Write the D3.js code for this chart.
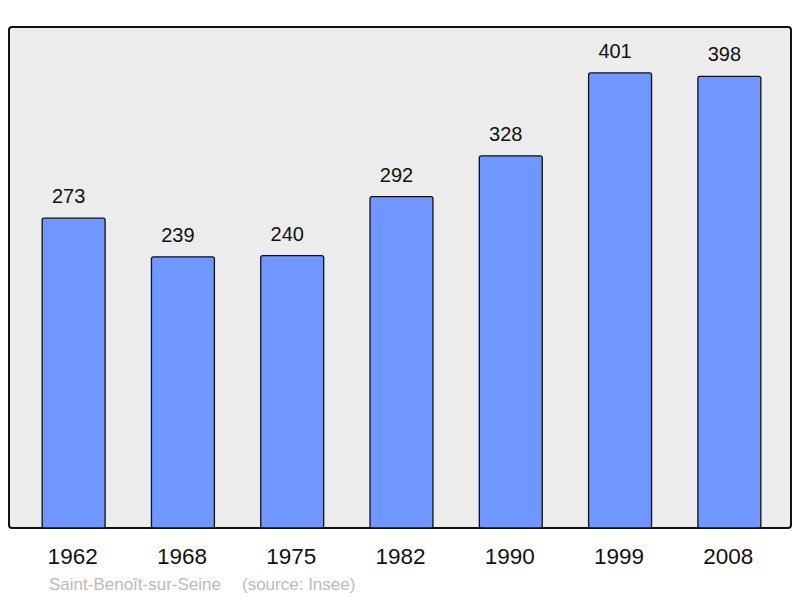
<!DOCTYPE html>
<html><head><meta charset="utf-8">
<script src="https://cdn.jsdelivr.net/npm/d3@7"></script>
<style>body{margin:0;background:#fff}svg{display:block}</style>
</head><body>
<script>
const years = ["1962","1968","1975","1982","1990","1999","2008"];
const population = [273,239,240,292,328,401,398];
const caption = ["Saint-Benoît-sur-Seine", "(source: Insee)"];

const W=800,H=598;
const frame={left:9,top:27,right:791,bottom:528};
const font="Liberation Sans, Arial, sans-serif";
const svg=d3.select("body").append("svg").attr("width",W).attr("height",H);
svg.append("rect").attr("x",frame.left).attr("y",frame.top)
  .attr("width",frame.right-frame.left).attr("height",frame.bottom-frame.top)
  .attr("rx",3).attr("fill","#ececec").attr("stroke","#111").attr("stroke-width",2);

const x=d3.scaleBand().domain(years).range([19,784]).paddingInner(0.424).paddingOuter(0.212);
const y=d3.scaleLinear().domain([0,441.5]).range([frame.bottom,frame.top]);

const g=svg.append("g");
g.selectAll("rect.bar").data(population).join("rect").attr("class","bar")
  .attr("x",(d,i)=>x(years[i])).attr("y",d=>y(d))
  .attr("width",x.bandwidth()).attr("height",d=>frame.bottom-y(d))
  .attr("rx",2).attr("fill","#7096ff").attr("stroke","#111").attr("stroke-width",1.3);

g.selectAll("text.val").data(population).join("text").attr("class","val")
  .attr("x",(d,i)=>x(years[i])+x.bandwidth()/2-5).attr("y",d=>y(d)-15)
  .attr("text-anchor","middle").attr("font-family",font)
  .attr("font-size",20).attr("fill","#111").text(d=>d);

const axis=d3.axisBottom(x).tickSize(0).tickPadding(0);
const ax=svg.append("g").attr("transform",`translate(0,${frame.bottom})`).call(axis);
ax.select(".domain").remove();
ax.selectAll("text").attr("y",36).attr("dy",null).attr("x",-1).attr("font-family",font)
  .attr("font-size",22.5).attr("fill","#111");

svg.append("text").attr("x",49).attr("y",590).attr("font-family",font)
  .attr("font-size",17).attr("fill","#bbb").text(caption[0]);
svg.append("text").attr("x",242).attr("y",590).attr("font-family",font)
  .attr("font-size",17).attr("fill","#bbb").text(caption[1]);
</script>
</body></html>
